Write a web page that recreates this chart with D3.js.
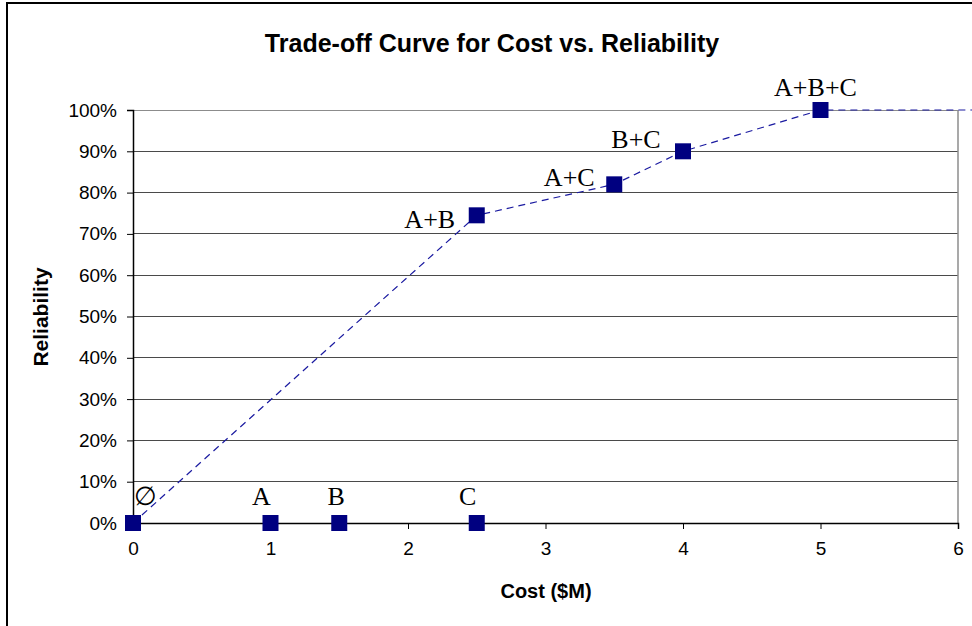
<!DOCTYPE html>
<html><head><meta charset="utf-8">
<script src="https://cdn.jsdelivr.net/npm/d3@7"></script>
<style>body{margin:0;background:#fff}svg{display:block}</style>
</head><body>
<script>
// Data
const labels = ["\u2205", "A", "B", "C", "A+B", "A+C", "B+C", "A+B+C"];
const costs = [0, 1, 1.5, 2.5, 2.5, 3.5, 4, 5];
const reliability = [0, 0, 0, 0, 0.745, 0.82, 0.90, 1.00];
// Trade-off frontier (indices into the points) plus its extension beyond the axis
const frontierIdx = [0, 4, 5, 6, 7];
const frontierTailCost = [6.5];
const frontierTailRel = [1.00];
const xTicks = [0, 1, 2, 3, 4, 5, 6];
const yTicks = [0, 0.1, 0.2, 0.3, 0.4, 0.5, 0.6, 0.7, 0.8, 0.9, 1.0];
// label offsets (styling, px)
const labelOffsets = [[12, -18], [-9, -18], [-3, -18], [-9, -18], [-47, 13], [-45, 2], [-47, -3], [-5, -14]];

const W = 972, H = 626;
const svg = d3.select("body").append("svg").attr("width", W).attr("height", H);

svg.append("rect").attr("x", 7).attr("y", 3).attr("width", W).attr("height", H)
  .attr("fill", "#fff").attr("stroke", "#000").attr("stroke-width", 2);

const x = d3.scaleLinear().domain([0, 6]).range([133, 958]);
const y = d3.scaleLinear().domain([0, 1]).range([523, 110]);

// gridlines
svg.append("g").selectAll("line").data(yTicks.filter(d => d > 0)).join("line")
  .attr("x1", x(0)).attr("x2", x(6)).attr("y1", d => y(d)).attr("y2", d => y(d))
  .attr("stroke", d => d === 1 ? "#8c8c8c" : "#4a4a4a").attr("stroke-width", 1).attr("shape-rendering", "crispEdges");
// right border of plot area
svg.append("line").attr("x1", x(6)).attr("x2", x(6)).attr("y1", y(1)).attr("y2", y(0))
  .attr("stroke", "#8c8c8c").attr("stroke-width", 1.5);

// axes
const xAxis = svg.append("g").attr("transform", `translate(0,${y(0)})`)
  .call(d3.axisBottom(x).tickValues(xTicks).tickFormat(d3.format("d")).tickSizeOuter(0).tickSize(6).tickPadding(13));
const yAxis = svg.append("g").attr("transform", `translate(${x(0)},0)`)
  .call(d3.axisLeft(y).tickValues(yTicks).tickFormat(d3.format(".0%")).tickSizeOuter(0).tickSize(6).tickPadding(10));
[xAxis, yAxis].forEach(g => {
  g.select(".domain").attr("stroke", "#000").attr("stroke-width", 1.5);
  g.selectAll(".tick line").attr("stroke", "#000");
  g.selectAll("text").attr("font-family", "Liberation Sans, Arial, sans-serif").attr("font-size", 19).attr("fill", "#000");
});

// dashed frontier line
const linePts = frontierIdx.map(i => [costs[i], reliability[i]])
  .concat(frontierTailCost.map((c, i) => [c, frontierTailRel[i]]));
svg.append("path").datum(linePts)
  .attr("d", d3.line().x(d => x(d[0])).y(d => y(d[1])))
  .attr("fill", "none").attr("stroke", "#1a1aa0").attr("stroke-width", 1.2).attr("stroke-dasharray", "7,5");

// markers
const pts = labels.map((l, i) => ({ l, c: costs[i], r: reliability[i], o: labelOffsets[i] }));
svg.append("g").selectAll("rect").data(pts).join("rect")
  .attr("x", d => x(d.c) - 8).attr("y", d => y(d.r) - 8).attr("width", 16).attr("height", 16)
  .attr("fill", "#000080");

svg.append("g").selectAll("text").data(pts).join("text")
  .attr("x", d => x(d.c) + d.o[0]).attr("y", d => y(d.r) + d.o[1])
  .attr("text-anchor", "middle")
  .attr("font-family", "Liberation Serif, Times New Roman, serif").attr("font-size", 26).attr("fill", "#000")
  .text(d => d.l);

// titles
svg.append("text").attr("x", 492).attr("y", 52).attr("text-anchor", "middle")
  .attr("font-family", "Liberation Sans, Arial, sans-serif").attr("font-weight", "bold").attr("font-size", 25)
  .text("Trade-off Curve for Cost vs. Reliability");
svg.append("text").attr("x", 546).attr("y", 598).attr("text-anchor", "middle")
  .attr("font-family", "Liberation Sans, Arial, sans-serif").attr("font-weight", "bold").attr("font-size", 20)
  .text("Cost ($M)");
svg.append("text").attr("transform", "translate(48,317) rotate(-90)").attr("text-anchor", "middle")
  .attr("font-family", "Liberation Sans, Arial, sans-serif").attr("font-weight", "bold").attr("font-size", 21)
  .text("Reliability");
</script>
</body></html>
